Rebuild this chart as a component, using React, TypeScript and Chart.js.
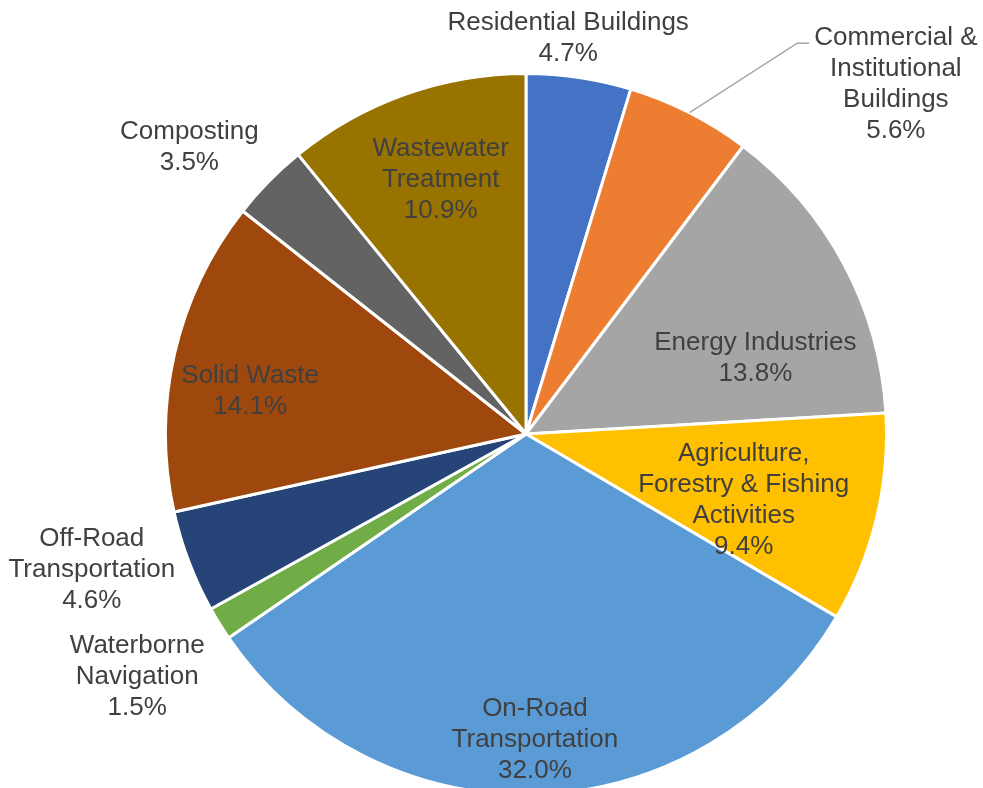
import React, { useEffect, useRef } from "react";
import { Chart, registerables } from "chart.js";

Chart.register(...registerables);

const categories: string[][] = [
  ["Residential Buildings"],
  ["Commercial &", "Institutional", "Buildings"],
  ["Energy Industries"],
  ["Agriculture,", "Forestry & Fishing", "Activities"],
  ["On-Road", "Transportation"],
  ["Waterborne", "Navigation"],
  ["Off-Road", "Transportation"],
  ["Solid Waste"],
  ["Composting"],
  ["Wastewater", "Treatment"],
];

const shares: number[] = [4.7, 5.6, 13.8, 9.4, 32.0, 1.5, 4.6, 14.1, 3.5, 10.9];

const colors: string[] = [
  "#4472C4",
  "#ED7D31",
  "#A5A5A5",
  "#FFC000",
  "#5B9BD5",
  "#70AD47",
  "#264478",
  "#9E480E",
  "#636363",
  "#997300",
];

// label placement: distance (fraction of radius) and angular shift (deg) from slice middle
const labelDist: number[] = [1.11, 1.415, 0.672, 0.63, 0.842, 1.268, 1.26, 0.775, 1.23, 0.75];
const labelShift: number[] = [-2.4, 19.5, 9.4, 3.0, 0.3, 0, 3.7, -3.7, -3.9, 1.2];
const leaderLine: boolean[] = [false, true, false, false, false, false, false, false, false, false];

const FONT = '"Liberation Sans", Arial, sans-serif';
const TEXT_COLOR = "#404040";
const LINE_H = 31;

const labelPlugin = {
  id: "pieLabels",
  afterDatasetsDraw(chart: any) {
    const ctx = chart.ctx as CanvasRenderingContext2D;
    const meta = chart.getDatasetMeta(0);
    ctx.save();
    ctx.font = `26px ${FONT}`;
    ctx.fillStyle = TEXT_COLOR;
    ctx.textAlign = "center";
    ctx.textBaseline = "middle";
    meta.data.forEach((arc: any, i: number) => {
      const { x, y, startAngle, endAngle, outerRadius } = arc.getProps(
        ["x", "y", "startAngle", "endAngle", "outerRadius"],
        true
      );
      const mid = (startAngle + endAngle) / 2;
      const a = mid + (labelShift[i] * Math.PI) / 180;
      const d = outerRadius * labelDist[i];
      const lx = x + Math.cos(a) * d;
      const ly = y + Math.sin(a) * d;
      const lines = [...categories[i], shares[i].toFixed(1) + "%"];
      const top = ly - ((lines.length - 1) * LINE_H) / 2 + 2;
      if (leaderLine[i]) {
        const sx = x + Math.cos(mid) * outerRadius;
        const sy = y + Math.sin(mid) * outerRadius;
        const w = ctx.measureText(lines[0]).width;
        const ex = lx - w / 2 - 5;
        const ey = top + 5;
        ctx.save();
        ctx.strokeStyle = "#A6A6A6";
        ctx.lineWidth = 1.5;
        ctx.beginPath();
        ctx.moveTo(sx, sy);
        ctx.lineTo(ex - 12, ey);
        ctx.lineTo(ex, ey);
        ctx.stroke();
        ctx.restore();
      }
      lines.forEach((t, k) => {
        ctx.fillText(t, lx, top + k * LINE_H);
      });
    });
    ctx.restore();
  },
};

export default function App() {
  const ref = useRef<HTMLCanvasElement>(null);
  useEffect(() => {
    if (!ref.current) return;
    const chart = new Chart(ref.current, {
      type: "pie",
      data: {
        labels: categories.map((c) => c.join(" ")),
        datasets: [
          {
            data: shares,
            backgroundColor: colors,
            borderColor: "#FFFFFF",
            borderWidth: 3,
            radius: 360.5,
            clip: false,
          } as any,
        ],
      },
      options: {
        responsive: false,
        animation: false,
        layout: { padding: { left: 167, right: 98, top: 80, bottom: 0 } },
        plugins: {
          legend: { display: false },
          tooltip: { enabled: false },
        },
      },
      plugins: [labelPlugin],
    });
    return () => chart.destroy();
  }, []);
  return (
    <div
      style={{
        position: "fixed",
        left: 0,
        top: 0,
        width: 983,
        height: 788,
        overflow: "hidden",
        background: "#fff",
      }}
    >
      <canvas ref={ref} width={983} height={788} style={{ display: "block" }} />
    </div>
  );
}
